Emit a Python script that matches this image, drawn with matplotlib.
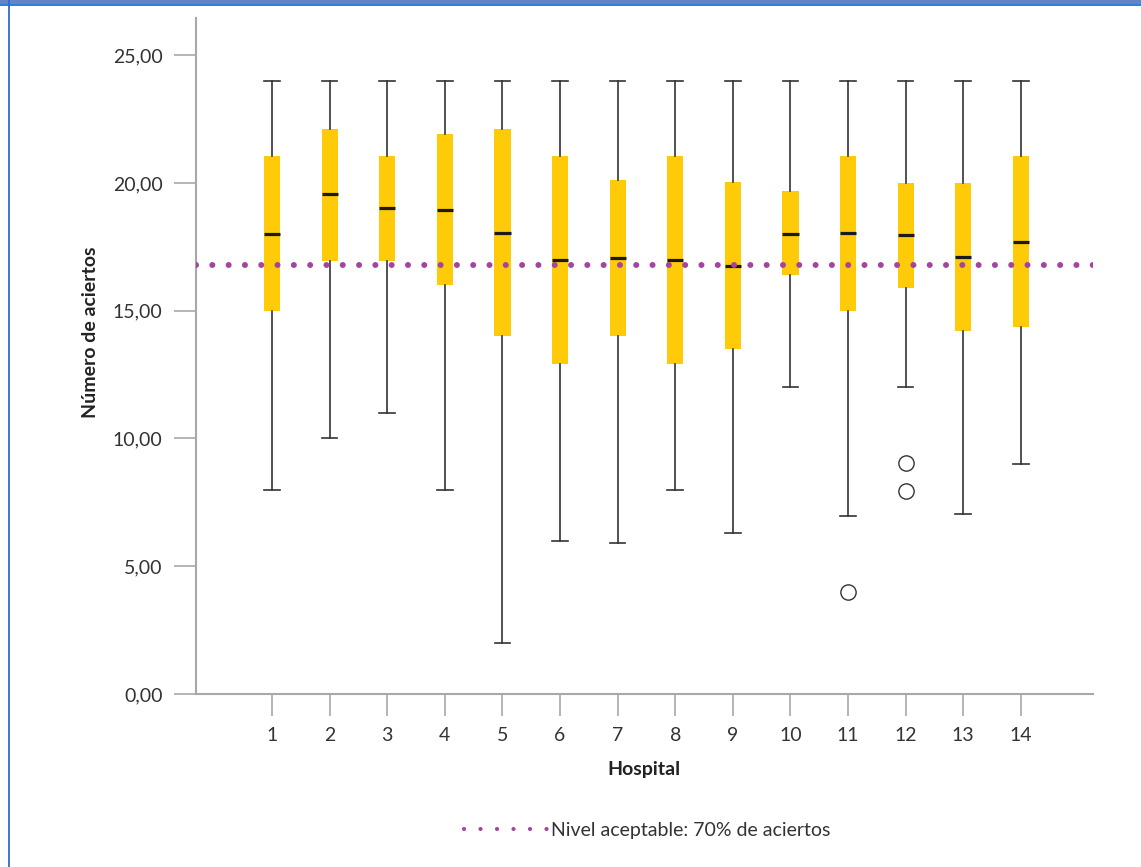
"""Box plot of correct answers per hospital, with the 70% acceptable level."""

import matplotlib
matplotlib.use("Agg")
import matplotlib.pyplot as plt
from matplotlib.lines import Line2D
from matplotlib.patches import Rectangle
from matplotlib.ticker import FuncFormatter

# ── Data ────────────────────────────────────────────────────────────
hospitals = list(range(1, 15))
q1 = [15.0, 16.95, 16.95, 16.0, 14.0, 12.9, 14.0, 12.9, 13.5, 16.4, 15.0, 15.9, 14.2, 14.35]
q3 = [21.05, 22.1, 21.05, 21.9, 22.1, 21.05, 20.1, 21.05, 20.05, 19.7, 21.05, 20.0, 20.0, 21.05]
medians = [18.0, 19.55, 19.0, 18.95, 18.05, 17.0, 17.05, 17.0, 16.75, 18.0, 18.05, 17.95, 17.1, 17.7]
whisk_lo = [8, 10, 11, 8, 2, 6, 5.9, 8, 6.3, 12, 6.95, 12, 7.05, 9]
whisk_hi = [24] * 14
outliers = {11: [4.0], 12: [9.05, 7.95]}
acceptable = 16.8  # 70% de 24 aciertos

y_ticks = [0, 5, 10, 15, 20, 25]

# ── Style ───────────────────────────────────────────────────────────
plt.rcParams["font.family"] = ["Lato", "DejaVu Sans"]
TEXT = "#333333"
AXIS = "#a8a8a8"
BOX = "#ffca08"
DOT = "#a4449e"

fig = plt.figure(figsize=(11.41, 8.67), dpi=100)
ax = fig.add_axes([0.1718, 0.1995, 0.786, 0.7797])

stats = []
for i, h in enumerate(hospitals):
    stats.append({
        "label": str(h),
        "med": medians[i],
        "q1": q1[i],
        "q3": q3[i],
        "whislo": whisk_lo[i],
        "whishi": whisk_hi[i],
        "fliers": outliers.get(h, []),
    })

ax.bxp(
    stats,
    positions=hospitals,
    widths=0.28,
    capwidths=0.27,
    patch_artist=True,
    boxprops=dict(facecolor=BOX, edgecolor="none", linewidth=0),
    medianprops=dict(color="#1a1a1a", linewidth=2.3, solid_capstyle="butt"),
    whiskerprops=dict(color="#333333", linewidth=1.2),
    capprops=dict(color="#333333", linewidth=1.2),
    flierprops=dict(marker="o", markersize=11, markerfacecolor="white",
                    markeredgecolor="#333333", markeredgewidth=1.0),
    zorder=3,
)

ax.axhline(acceptable, color=DOT, linewidth=4.3, linestyle=(0, (0.01, 2.72)),
           dash_capstyle="round", zorder=4)

ax.set_xlim(-0.32, 15.25)
ax.set_ylim(0, 26.45)
ax.set_xticks(hospitals)
ax.set_xticklabels([str(h) for h in hospitals])
ax.set_yticks(y_ticks)
ax.yaxis.set_major_formatter(FuncFormatter(lambda v, _: f"{v:.2f}".replace(".", ",")))

for side in ("top", "right"):
    ax.spines[side].set_visible(False)
for side in ("left", "bottom"):
    ax.spines[side].set_color(AXIS)
    ax.spines[side].set_linewidth(1.5)

ax.tick_params(axis="both", direction="out", length=16, width=1.2, color=AXIS,
               labelsize=14, labelcolor=TEXT, pad=8)

ax.set_xlabel("Hospital", fontsize=14, fontweight="bold", color="#222222", labelpad=12)
ax.set_ylabel("Número de aciertos", fontsize=14, fontweight="bold", color="#222222")
ax.yaxis.set_label_coords(-0.108, 0.535)

# legend uses slightly smaller dots than the plotted line
handle = Line2D([], [], color=DOT, linewidth=3.0, linestyle=(0, (0.01, 3.95)),
                dash_capstyle="round")
fig.legend([handle], ["Nivel aceptable: 70% de aciertos"], loc="center",
           bbox_to_anchor=(0.567, 0.042), frameon=False, fontsize=14,
           handlelength=4.4, handletextpad=0.05, labelcolor=TEXT)

# page frame: blue bar on top, thin rule on the left
fig.patches.append(Rectangle((0, 1 - 4 / 867), 1, 4 / 867, transform=fig.transFigure,
                             facecolor="#6384c6", edgecolor="none"))
fig.lines.append(Line2D([0, 1], [1 - 5 / 867] * 2, transform=fig.transFigure,
                        color="#1e6fd9", linewidth=1.3))
fig.lines.append(Line2D([8.5 / 1141] * 2, [0, 1], transform=fig.transFigure,
                        color="#2a6fc9", linewidth=1.3))

fig.savefig("out.png", dpi=100)
